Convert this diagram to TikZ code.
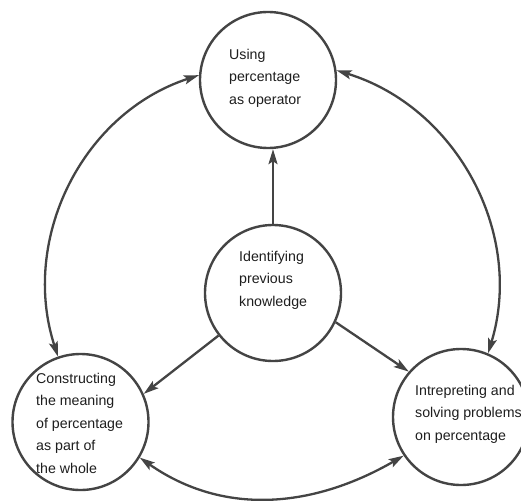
\documentclass[tikz,border=0pt]{standalone}
\usepackage{fontspec}
\setmainfont{Liberation Sans}
\usetikzlibrary{arrows.meta}
\definecolor{linegray}{HTML}{444444}
\definecolor{textgray}{HTML}{1E1E1E}
\begin{document}
\begin{tikzpicture}[x=1pt,y=-1pt,
  bubble/.style={circle,draw=linegray,line width=2.4pt,minimum size=136pt,inner sep=0pt},
  label/.style={anchor=west,align=left,inner sep=0pt,text=textgray,
    font=\fontsize{14.2pt}{22.5pt}\selectfont},
  link/.style={draw=linegray,line width=2.3pt,-{Stealth[length=15pt,width=9pt,inset=3pt]}},
  twoway/.style={draw=linegray,line width=2.3pt,{Stealth[length=15pt,width=9pt,inset=3pt]}-{Stealth[length=15pt,width=9pt,inset=3pt]}}]
\useasboundingbox[fill=white] (0,0) rectangle (521,500);
\node[bubble] (c1) at (268,80) {};
\node[bubble] (c2) at (273,293) {};
\node[bubble] (c3) at (80.5,422) {};
\node[bubble] (c4) at (461,417) {};
\node[label] (t1) at (229,78) {Using\\percentage\\as operator};
\node[label] (t2) at (239,280) {Identifying\\previous\\knowledge};
\node[label] (t3) at (36,423) {Constructing\\the meaning\\of percentage\\as part of\\the whole};
\node[label] (t4) at (415,414) {Intrepreting and\\solving problems\\on percentage};
\draw[link] (c2.north) -- (c2.north |- c1.south);
\draw[link] (c2.218) -- (c3.24);
\draw[link] (c2.-25) -- (c4.139);
\draw[twoway] (c1.176) to[out=198,in=108,looseness=1] (c3.109);
\draw[twoway] (c1.8) to[out=-17,in=73,looseness=1] (c4.67);
\draw[twoway] (c3.-31) to[out=-35,in=210,looseness=1] (c4.214);
\end{tikzpicture}
\end{document}
